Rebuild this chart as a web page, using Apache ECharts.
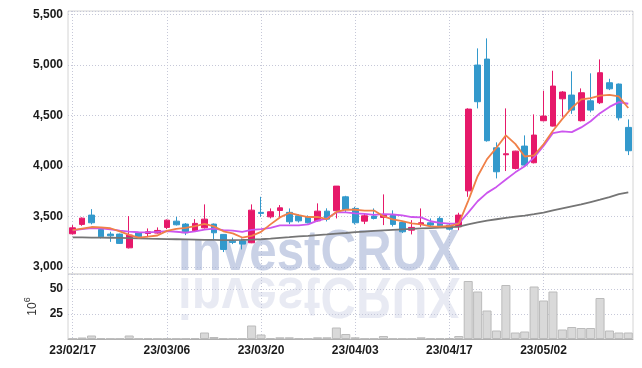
<!DOCTYPE html>
<html><head><meta charset="utf-8">
<script src="https://cdn.jsdelivr.net/npm/echarts@6/dist/echarts.min.js"></script>
<style>html,body{margin:0;padding:0;background:#fff}#c{width:642px;height:368px}</style>
</head><body><div id="c"></div>
<script>
const dates = ['23/02/17','23/02/20','23/02/21','23/02/22','23/02/23','23/02/24','23/02/27','23/02/28','23/03/02','23/03/03',
'23/03/06','23/03/07','23/03/08','23/03/09','23/03/10','23/03/13','23/03/14','23/03/15','23/03/16','23/03/17',
'23/03/20','23/03/21','23/03/22','23/03/23','23/03/24','23/03/27','23/03/28','23/03/29','23/03/30','23/03/31',
'23/04/03','23/04/04','23/04/05','23/04/06','23/04/07','23/04/10','23/04/11','23/04/12','23/04/13','23/04/14',
'23/04/17','23/04/18','23/04/19','23/04/20','23/04/21','23/04/24','23/04/25','23/04/26','23/04/27','23/04/28',
'23/05/02','23/05/03','23/05/04','23/05/08','23/05/09','23/05/10','23/05/11','23/05/12','23/05/15','23/05/16'];
const opens = [3328,3421,3513,3371,3325,3325,3189,3338,3331,3335,
3391,3453,3424,3358,3387,3424,3322,3255,3258,3239,
3540,3496,3559,3540,3506,3496,3456,3552,3556,3694,
3579,3453,3503,3490,3513,3440,3364,3424,3437,3480,
3414,3397,3753,4998,5057,4179,4110,3975,4196,4031,
4447,4394,4664,4701,4447,4644,4625,4823,4810,4381];
const closes = [3387,3483,3437,3298,3308,3233,3315,3298,3348,3361,
3463,3417,3348,3431,3473,3338,3173,3243,3226,3562,
3530,3546,3585,3447,3456,3437,3552,3473,3800,3569,
3437,3506,3480,3513,3421,3348,3391,3437,3414,3407,
3374,3513,4562,4635,4249,3942,4120,4146,4008,4305,
4493,4790,4731,4552,4724,4552,4922,4763,4476,4150];
const lows = [3320,3407,3421,3282,3248,3228,3183,3290,3298,3330,
3374,3410,3315,3350,3380,3265,3147,3226,3173,3235,
3496,3480,3490,3424,3440,3430,3450,3450,3480,3545,
3420,3424,3470,3414,3400,3335,3322,3397,3400,3395,
3364,3364,3694,4569,4240,3876,3949,3965,4000,4025,
4440,4390,4486,4515,4440,4530,4612,4750,4450,4107];
const highs = [3414,3490,3572,3391,3348,3330,3503,3345,3381,3391,
3470,3496,3434,3473,3619,3430,3325,3290,3282,3619,
3694,3579,3612,3579,3520,3510,3629,3580,3800,3704,
3595,3526,3579,3718,3560,3445,3463,3579,3480,3500,
3430,3536,4570,5163,5262,4233,4569,4150,4302,4510,
4744,4942,4740,4936,4767,4916,5054,4862,4815,4460];
const ma5 = [3365,3380,3395,3392,3383,3352,3318,3290,3300,3311,
3357,3377,3387,3404,3426,3401,3353,3332,3291,3308,
3347,3421,3490,3534,3513,3494,3495,3473,3544,3566,
3566,3557,3558,3501,3471,3454,3431,3422,3402,3399,
3405,3429,3654,3898,4067,4180,4302,4218,4093,4104,
4214,4348,4465,4574,4658,4670,4696,4703,4687,4573];
const ma10 = [3362,3375,3385,3382,3372,3360,3350,3343,3342,3347,
3354,3348,3339,3352,3369,3379,3365,3360,3347,3367,
3374,3387,3411,3412,3411,3421,3458,3481,3539,3540,
3530,3526,3516,3522,3519,3510,3494,3490,3452,3435,
3429,3430,3538,3650,3733,3792,3865,3936,3996,4085,
4197,4325,4342,4334,4381,4442,4522,4584,4631,4615];
const ma60 = [3292,3292,3291,3290,3289,3287,3285,3283,3280,3278,
3276,3274,3272,3270,3268,3267,3266,3266,3267,3270,
3274,3280,3287,3294,3302,3308,3315,3322,3330,3336,
3344,3350,3356,3362,3367,3372,3377,3381,3385,3389,
3392,3398,3420,3440,3458,3472,3486,3497,3508,3522,
3537,3560,3580,3600,3618,3642,3665,3690,3720,3738];
const volumes = [0.5,1.5,3.5,1,0.5,0.5,3.5,0.5,1,0.5,
0.5,0.5,0.5,1,6.5,2,1,0.5,0.5,13.5,
4.5,1,1.7,1.7,0.7,0.5,1.7,1.7,11.5,5,
1.7,0.5,0.5,3,0.5,0.5,0.5,1.7,0.8,0.8,
0.8,3,58,47.5,28.5,8.5,54,6.5,7.5,52.5,
38.5,47.5,9.5,12,11,11,41,8.5,6.5,6.5];
const watermark = 'investCRUX';

const candles = opens.map((o, i) => [o, closes[i], lows[i], highs[i]]);
const font = '"Liberation Sans", Arial, sans-serif';
const split = {color: '#c6c8d8', type: [1, 2], width: 1};
const upC = '#e6196a', downC = '#3399cc';
const lbl = {color: '#1a1a1a', fontSize: 12, fontFamily: font, fontWeight: 'bold'};

const chart = echarts.init(document.getElementById('c'));
chart.setOption({
  animation: false,
  grid: [
    {left: 68, top: 11, width: 565, height: 263, show: true, borderColor: '#d4d4d4', borderWidth: 1},
    {left: 68, top: 274, width: 565, height: 65, show: true, borderColor: '#d4d4d4', borderWidth: 1}
  ],
  graphic: [
    {type: 'text', z: 1, x: 0, y: 0, scaleX: 0.85, originX: 178,
     style: {text: watermark, x: 178, y: 254, font: 'bold 58px "Liberation Sans"', fill: 'rgba(165,178,214,0.6)',
             textAlign: 'left', textVerticalAlign: 'middle', align: 'left', verticalAlign: 'middle'}},
    {type: 'text', z: 1, x: 0, y: 0, scaleX: 0.85, scaleY: -1, originX: 178, originY: 274,
     style: {text: watermark, x: 178, y: 254, font: 'bold 58px "Liberation Sans"', fill: 'rgba(190,196,220,0.35)',
             textAlign: 'left', textVerticalAlign: 'middle', align: 'left', verticalAlign: 'middle'}}
  ],
  xAxis: [
    {type: 'category', gridIndex: 0, data: dates, boundaryGap: true,
     axisLine: {show: false}, axisTick: {show: false}, axisLabel: {show: false},
     splitLine: {show: true, interval: 9, alignWithLabel: true, lineStyle: split}},
    {type: 'category', gridIndex: 1, data: dates, boundaryGap: true,
     axisLine: {show: true, lineStyle: {color: '#b0b0b0'}}, axisTick: {show: false},
     axisLabel: Object.assign({interval: 9, margin: 6}, lbl),
     splitLine: {show: true, interval: 9, alignWithLabel: true, lineStyle: split}}
  ],
  yAxis: [
    {type: 'value', gridIndex: 0, min: 2930, max: 5533, splitNumber: 5,
     axisLine: {show: false}, axisTick: {show: false},
     axisLabel: Object.assign({showMinLabel: false, showMaxLabel: false, margin: 5,
                 formatter: v => v.toLocaleString('en-US')}, lbl),
     splitLine: {lineStyle: split}},
    {type: 'value', gridIndex: 1, min: 0, max: 65, interval: 25,
     axisLine: {show: false}, axisTick: {show: false},
     axisLabel: Object.assign({showMinLabel: false, showMaxLabel: false, margin: 5}, lbl),
     splitLine: {lineStyle: split},
     name: '{a|10}{b|6}', nameLocation: 'middle', nameGap: 28, nameRotate: 90,
     nameTextStyle: {color: '#333', fontFamily: font,
       rich: {a: {fontSize: 12, fontFamily: font, color: '#333', verticalAlign: 'bottom', lineHeight: 16},
              b: {fontSize: 9, fontFamily: font, color: '#333', verticalAlign: 'top', lineHeight: 16}}}}
  ],
  series: [
    {type: 'candlestick', xAxisIndex: 0, yAxisIndex: 0, data: candles, barWidth: '66%',
     itemStyle: {color: upC, color0: downC, borderColor: upC, borderColor0: downC, borderWidth: 1}},
    {type: 'line', xAxisIndex: 0, yAxisIndex: 0, data: ma60, symbol: 'none',
     lineStyle: {color: '#757575', width: 1.8}, z: 3},
    {type: 'line', xAxisIndex: 0, yAxisIndex: 0, data: ma10, symbol: 'none',
     lineStyle: {color: '#cc55ee', width: 1.8}, z: 3},
    {type: 'line', xAxisIndex: 0, yAxisIndex: 0, data: ma5, symbol: 'none',
     lineStyle: {color: '#f08048', width: 1.8}, z: 4},
    {type: 'bar', xAxisIndex: 1, yAxisIndex: 1, data: volumes, barCategoryGap: '4%',
     itemStyle: {color: '#d9d9d9', borderColor: '#bbbbbb', borderWidth: 1}}
  ]
});
</script></body></html>
